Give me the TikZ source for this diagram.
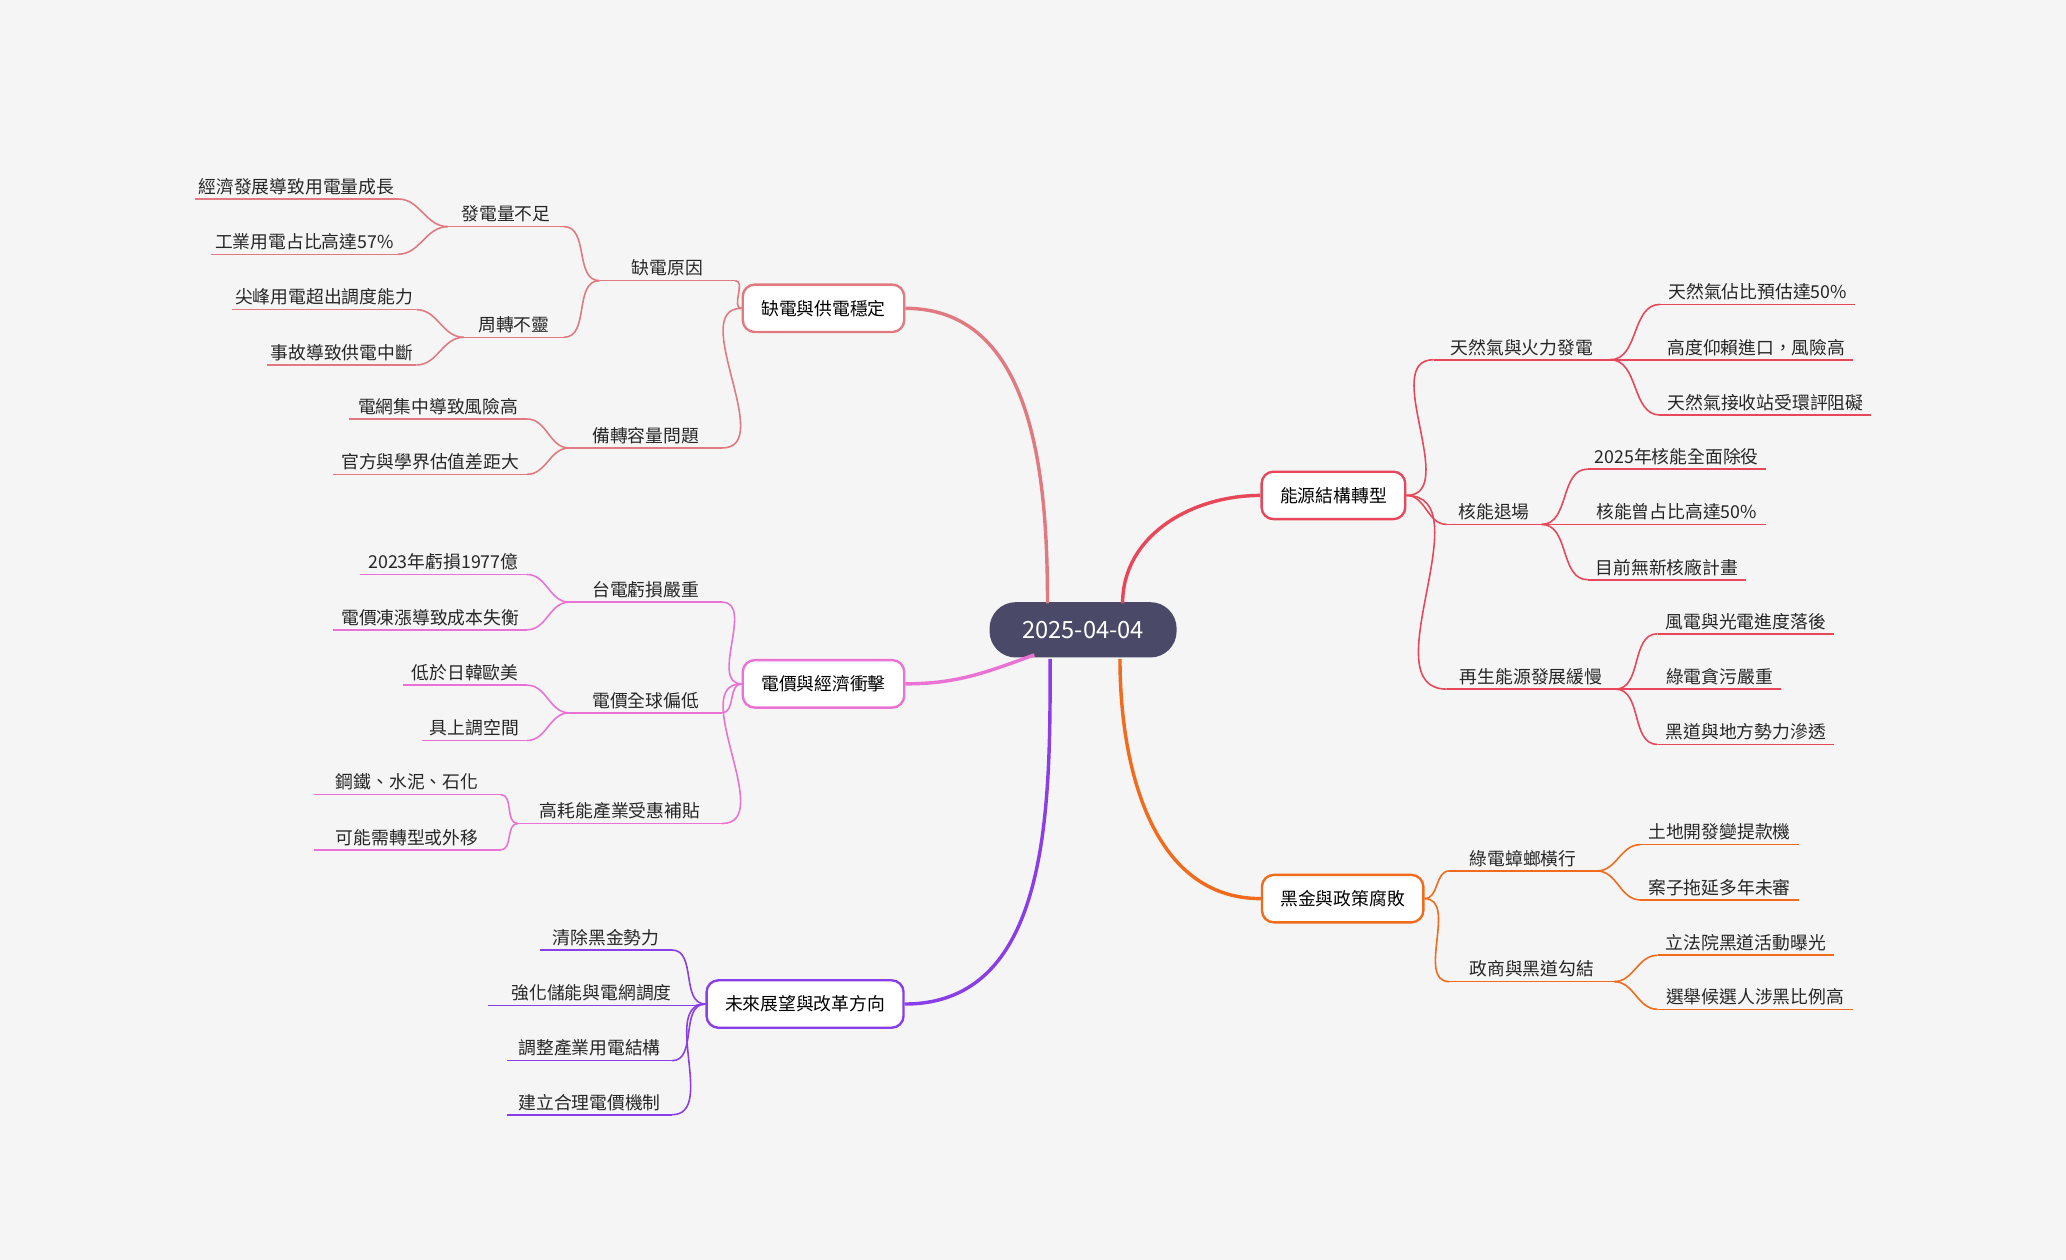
\documentclass[tikz,border=0pt]{standalone}
\usepackage{fontspec}
\setmainfont{Noto Sans CJK TC}
\begin{document}
\begin{tikzpicture}[x=1pt,y=-1pt,font=\fontsize{13.5}{16}\selectfont]
\definecolor{bg}{HTML}{F5F5F5}
\definecolor{cA}{HTML}{E07A80}
\definecolor{cB}{HTML}{EA72D4}
\definecolor{cC}{HTML}{8A3EE8}
\definecolor{cD}{HTML}{E8475A}
\definecolor{cE}{HTML}{F26A1B}
\definecolor{cen}{HTML}{4A4A68}
\fill[bg] (0,0) rectangle (1568,956);
\useasboundingbox (0,0) rectangle (1568,956);
\tikzset{mainbox/.style={draw=#1,line width=1.8pt,fill=white,rounded corners=9pt,minimum height=36pt,inner xsep=14pt},
 sub/.style={#1,line width=1.2pt},
 big/.style={#1,line width=2.6pt}}
\newcommand\lf[6]{%
 \coordinate (#1-l) at (#2,#4); \coordinate (#1-r) at (#3,#4);
 \draw[sub=#6] (#1-l)--(#1-r);
 \node[anchor=south,inner sep=3pt,text=black!85] (#1) at ({(#2+#3)/2},#4) {#5};}
\newcommand\cl[3]{\draw[sub=#3] (#1) to[out=180,in=0] (#2);}
\newcommand\cri[3]{\draw[sub=#3] (#1) to[out=0,in=180] (#2);}
% center
\node[fill=cen,rounded corners=20pt,minimum width=142pt,minimum height=42pt,text=white,font=\fontsize{18}{20}\selectfont] (c) at (822,478) {2025-04-04};
\node[mainbox=cA] (A) at (625,234) {缺電與供電穩定};
\node[mainbox=cB] (B) at (625,519) {電價與經濟衝擊};
\node[mainbox=cC] (C) at (611,762) {未來展望與改革方向};
\node[mainbox=cD] (D) at (1012,376) {能源結構轉型};
\node[mainbox=cE] (E) at (1019,682) {黑金與政策腐敗};
\coordinate (c1) at (795,458); \coordinate (c2) at (785,497); \coordinate (c3) at (797,500);
\coordinate (c4) at (852,458); \coordinate (c5) at (850,500);
\draw[big=cA] (c1) to[out=90,in=0] (A.east);
\draw[big=cB] (c2) to[out=200,in=0] (B.east);
\draw[big=cC] (c3) to[out=-90,in=0] (C.east);
\draw[big=cD] (c4) to[out=90,in=180] (D.west);
\draw[big=cE] (c5) to[out=-90,in=180] (E.west);
% group A
\lf{a1}{455}{558}{213}{缺電原因}{cA}
\lf{a11}{340}{428}{172}{發電量不足}{cA}
\lf{a111}{148}{302}{151}{經濟發展導致用電量成長}{cA}
\lf{a112}{160}{302}{193}{工業用電占比高達57\%}{cA}
\lf{a12}{352}{428}{256}{周轉不靈}{cA}
\lf{a121}{176}{316}{235}{尖峰用電超出調度能力}{cA}
\lf{a122}{203}{316}{277}{事故導致供電中斷}{cA}
\lf{a2}{432}{548}{340}{備轉容量問題}{cA}
\lf{a21}{265}{400}{318}{電網集中導致風險高}{cA}
\lf{a22}{253}{400}{360}{官方與學界估值差距大}{cA}
\cl{A.west}{a1-r}{cA} \cl{A.west}{a2-r}{cA}
\cl{a1-l}{a11-r}{cA} \cl{a1-l}{a12-r}{cA}
\cl{a11-l}{a111-r}{cA} \cl{a11-l}{a112-r}{cA}
\cl{a12-l}{a121-r}{cA} \cl{a12-l}{a122-r}{cA}
\cl{a2-l}{a21-r}{cA} \cl{a2-l}{a22-r}{cA}
% group B
\lf{b1}{432}{548}{457}{台電虧損嚴重}{cB}
\lf{b11}{273}{400}{436}{2023年虧損1977億}{cB}
\lf{b12}{253}{400}{478}{電價凍漲導致成本失衡}{cB}
\lf{b2}{432}{548}{541}{電價全球偏低}{cB}
\lf{b21}{306}{400}{520}{低於日韓歐美}{cB}
\lf{b22}{320}{400}{562}{具上調空間}{cB}
\lf{b3}{393}{548}{625}{高耗能產業受惠補貼}{cB}
\lf{b31}{238}{380}{603}{鋼鐵、水泥、石化}{cB}
\lf{b32}{238}{380}{645}{可能需轉型或外移}{cB}
\cl{B.west}{b1-r}{cB} \cl{B.west}{b2-r}{cB} \cl{B.west}{b3-r}{cB}
\cl{b1-l}{b11-r}{cB} \cl{b1-l}{b12-r}{cB}
\cl{b2-l}{b21-r}{cB} \cl{b2-l}{b22-r}{cB}
\cl{b3-l}{b31-r}{cB} \cl{b3-l}{b32-r}{cB}
% group C
\lf{c1}{410}{510}{721}{清除黑金勢力}{cC}
\lf{c2}{370}{528}{763}{強化儲能與電網調度}{cC}
\lf{c3}{385}{510}{805}{調整產業用電結構}{cC}
\lf{c4}{385}{510}{846}{建立合理電價機制}{cC}
\cl{C.west}{c1-r}{cC} \cl{C.west}{c2-r}{cC} \cl{C.west}{c3-r}{cC} \cl{C.west}{c4-r}{cC}
% group D
\lf{d1}{1088}{1222}{273}{天然氣與火力發電}{cD}
\lf{d11}{1260}{1408}{231}{天然氣佔比預估達50\%}{cD}
\lf{d12}{1260}{1406}{273}{高度仰賴進口，風險高}{cD}
\lf{d13}{1260}{1420}{315}{天然氣接收站受環評阻礙}{cD}
\lf{d2}{1098}{1170}{398}{核能退場}{cD}
\lf{d21}{1205}{1340}{356}{2025年核能全面除役}{cD}
\lf{d22}{1205}{1340}{398}{核能曾占比高達50\%}{cD}
\lf{d23}{1205}{1325}{440}{目前無新核廠計畫}{cD}
\lf{d3}{1098}{1226}{523}{再生能源發展緩慢}{cD}
\lf{d31}{1258}{1392}{481}{風電與光電進度落後}{cD}
\lf{d32}{1258}{1352}{523}{綠電貪污嚴重}{cD}
\lf{d33}{1258}{1392}{565}{黑道與地方勢力滲透}{cD}
\cri{D.east}{d1-l}{cD} \cri{D.east}{d2-l}{cD} \cri{D.east}{d3-l}{cD}
\cri{d1-r}{d11-l}{cD} \cri{d1-r}{d12-l}{cD} \cri{d1-r}{d13-l}{cD}
\cri{d2-r}{d21-l}{cD} \cri{d2-r}{d22-l}{cD} \cri{d2-r}{d23-l}{cD}
\cri{d3-r}{d31-l}{cD} \cri{d3-r}{d32-l}{cD} \cri{d3-r}{d33-l}{cD}
% group E
\lf{e1}{1100}{1212}{661}{綠電蟑螂橫行}{cE}
\lf{e11}{1245}{1365}{641}{土地開發變提款機}{cE}
\lf{e12}{1245}{1365}{683}{案子拖延多年未審}{cE}
\lf{e2}{1100}{1225}{745}{政商與黑道勾結}{cE}
\lf{e21}{1258}{1392}{725}{立法院黑道活動曝光}{cE}
\lf{e22}{1258}{1406}{766}{選舉候選人涉黑比例高}{cE}
\cri{E.east}{e1-l}{cE} \cri{E.east}{e2-l}{cE}
\cri{e1-r}{e11-l}{cE} \cri{e1-r}{e12-l}{cE}
\cri{e2-r}{e21-l}{cE} \cri{e2-r}{e22-l}{cE}
\end{tikzpicture}
\end{document}
